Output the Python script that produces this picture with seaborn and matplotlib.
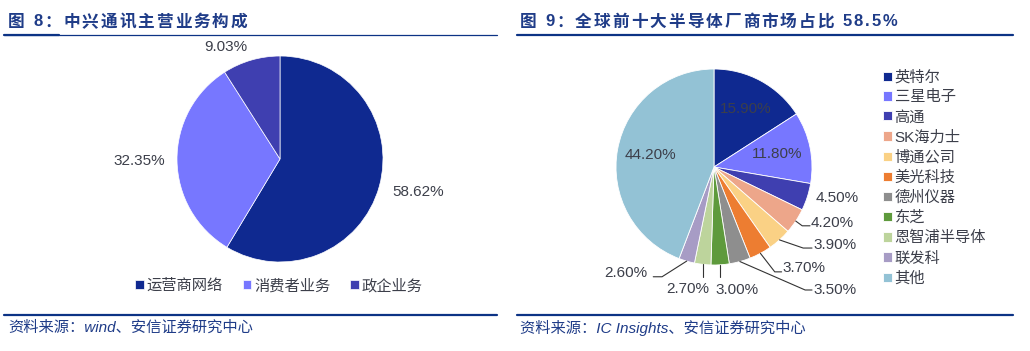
import numpy as np
import matplotlib
matplotlib.use('Agg')
import matplotlib.pyplot as plt
from matplotlib.lines import Line2D
import seaborn as sns

sns.set_style('white')
plt.rcParams['font.family'] = ['Liberation Sans', 'Noto Sans CJK SC']

# 图8 数据
zte_labels = ['运营商网络', '消费者业务', '政企业务']
zte_share = [58.62, 32.35, 9.03]
zte_colors = ['#0F2990', '#7777FF', '#3F3FB0']

# 图9 数据
semi_labels = ['英特尔', '三星电子', '高通', 'SK海力士', '博通公司', '美光科技',
               '德州仪器', '东芝', '恩智浦半导体', '联发科', '其他']
semi_share = [15.9, 11.8, 4.5, 4.2, 3.9, 3.7, 3.5, 3.0, 2.7, 2.6, 44.2]
semi_colors = ['#0F2990', '#7777FF', '#3F3FB0', '#EDA68A', '#FAD185', '#ED7D31',
               '#8E8E8E', '#5E9A3C', '#BDD49C', '#A79CC5', '#93C2D5']

NAVY = '#0C3385'
TXT = '#3C3F4A'
FS = 11
W, H = 1030, 351
fig = plt.figure(figsize=(W / 100, H / 100), dpi=100)
renderer = fig.canvas.get_renderer()


def pie_axes(cx, cy, r, lim=1.02):
    half = r * lim
    ax = fig.add_axes([(cx - half) / W, (H - cy - half) / H, 2 * half / W, 2 * half / H])
    return ax


def mid_angles(vals):
    vals = np.asarray(vals, dtype=float)
    cum = np.cumsum(vals) - vals / 2
    return np.deg2rad(90 - cum / vals.sum() * 360)


def fmt(v):
    return f'{v:.2f}%'


def spaced_title(x, y, s, track=2.0):
    # 标题字间距较宽，逐字绘制
    for ch in s:
        t = fig.text(x / W, 1 - y / H, ch, fontsize=12, fontweight='bold',
                     color='#1F3C88', va='center')
        x += t.get_window_extent(renderer).width + track


# ---------------- 左图 ----------------
ax1 = pie_axes(280, 159, 103)
w1, _ = ax1.pie(zte_share, colors=zte_colors, startangle=90, counterclock=False,
                wedgeprops=dict(edgecolor='white', linewidth=0.5))
ax1.set_xlim(-1.02, 1.02)
ax1.set_ylim(-1.02, 1.02)

zte_text_pos = [(1.09, -0.32, 'left'), (-1.12, -0.02, 'right'), (-0.53, 1.09, 'center')]
for v, (x, y, ha) in zip(zte_share, zte_text_pos):
    ax1.text(x, y, fmt(v), ha=ha, va='center', fontsize=FS, color=TXT)

ax1.legend(w1, zte_labels, loc='center', ncol=3, frameon=False,
           bbox_to_anchor=(279 / W, (H - 286) / H), bbox_transform=fig.transFigure,
           handlelength=0.55, handleheight=0.55, handletextpad=0.2, columnspacing=1.3,
           fontsize=FS, labelcolor=TXT)

# ---------------- 右图 ----------------
ax2 = pie_axes(714, 167, 98)
w2, _ = ax2.pie(semi_share, colors=semi_colors, startangle=90, counterclock=False,
                wedgeprops=dict(edgecolor='white', linewidth=0.6))
ax2.set_xlim(-1.02, 1.02)
ax2.set_ylim(-1.02, 1.02)

ang = mid_angles(semi_share)
inside = {0: 0.68, 1: 0.66, 10: 0.66}
for i, d in inside.items():
    ax2.text(d * np.cos(ang[i]), d * np.sin(ang[i]), fmt(semi_share[i]),
             ha='center', va='center', fontsize=FS, color=TXT)

# 外部标签：文字位置 + 引线拐点
outside = {
    2: ((1.04, -0.32, 'left'), None),
    3: ((0.99, -0.575, 'left'), [(0.90, -0.60), (0.98, -0.60)]),
    4: ((1.01, -0.80, 'left'), [(0.91, -0.827), (1.0, -0.827)]),
    5: ((0.70, -1.03, 'left'), [(0.62, -1.07), (0.69, -1.07)]),
    6: ((1.01, -1.25, 'left'), [(0.93, -1.255), (1.0, -1.255)]),
    7: ((0.235, -1.255, 'center'), 'down'),
    8: ((-0.265, -1.245, 'center'), 'down'),
    9: ((-0.68, -1.08, 'right'), [(-0.53, -1.12), (-0.62, -1.12)]),
}
for i, ((tx, ty, ha), path) in outside.items():
    ax2.text(tx, ty, fmt(semi_share[i]), ha=ha, va='center', fontsize=FS, color=TXT)
    ex, ey = np.cos(ang[i]), np.sin(ang[i])
    if path is None:
        continue
    if path == 'down':
        pts = [(ex, ey), (ex, -1.12)]
    else:
        pts = [(ex, ey)] + path
    xs, ys = zip(*pts)
    ax2.plot(xs, ys, color='#333333', lw=0.8, clip_on=False)

ax2.legend(w2, semi_labels, loc='upper left', frameon=False,
           bbox_to_anchor=(877 / W, (H - 64) / H), bbox_transform=fig.transFigure,
           handlelength=0.55, handleheight=0.55, handletextpad=0.2, labelspacing=0.385,
           fontsize=FS, labelcolor=TXT, borderaxespad=0)

# ---------------- 标题、线条、来源 ----------------
spaced_title(8, 22, '图 8：中兴通讯主营业务构成')
spaced_title(520, 22, '图 9：全球前十大半导体厂商市场占比 58.5%')

for x0, x1 in [(4, 497), (517, 1013)]:
    fig.add_artist(Line2D([x0 / W, x1 / W], [1 - 315 / H] * 2, color=NAVY, lw=1.6))
fig.add_artist(Line2D([4 / W, 497 / W], [1 - 35 / H] * 2, color=NAVY, lw=0.9))
fig.add_artist(Line2D([4 / W, 59 / W], [1 - 35 / H] * 2, color=NAVY, lw=1.6))
fig.add_artist(Line2D([517 / W, 1013 / W], [1 - 35 / H] * 2, color=NAVY, lw=1.6))

src_kw = dict(fontsize=11, style='italic', color='#1F3C88', va='center')
fig.text(8 / W, 1 - 328 / H, '资料来源：wind、安信证券研究中心', **src_kw)
fig.text(520 / W, 1 - 328 / H, '资料来源：IC Insights、安信证券研究中心', **src_kw)

fig.savefig('out.png', dpi=100)
